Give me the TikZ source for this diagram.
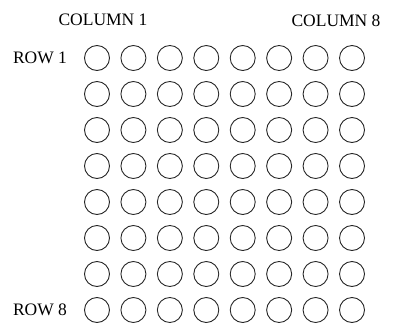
\documentclass[tikz,border=0pt]{standalone}
\usepackage{fontspec}
\setmainfont{Liberation Serif}
\begin{document}
\begin{tikzpicture}[x=1bp,y=-1bp,
  dot/.style={circle,draw=black!85,line width=0.9bp,minimum size=25bp,inner sep=0pt},
  lbl/.style={font=\fontsize{17.5bp}{20bp}\selectfont,inner sep=0pt}]
\useasboundingbox (0,0) rectangle (405,327);
\foreach \r in {1,...,8}{
  \foreach \c in {1,...,8}{
    \node[dot] (d\r-\c) at ({97+(\c-1)*36.43},{58+(\r-1)*36}) {};
  }
}
\node[lbl] (col1) at (103,20) {COLUMN 1};
\node[lbl] (col8) at (336,21) {COLUMN 8};
\node[lbl] (row1) at (40,58) {ROW 1};
\node[lbl] (row8) at (40,310) {ROW 8};
\end{tikzpicture}
\end{document}
